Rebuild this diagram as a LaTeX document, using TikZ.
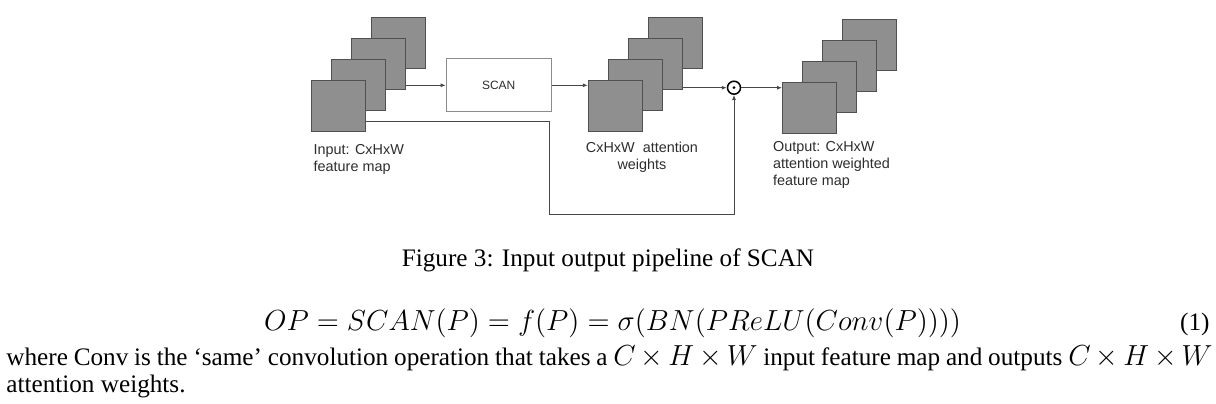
\RequirePackage{fix-cm}
\documentclass[tikz,border=0pt]{standalone}
\usepackage{fontspec}
\setmainfont{Liberation Serif}
\newfontfamily\arial{Liberation Sans}
\usepackage{xcolor}
\usepackage{tikz}
\usetikzlibrary{arrows.meta}
\definecolor{mapfill}{RGB}{143,143,143}
\definecolor{mapline}{RGB}{80,80,80}
\definecolor{wire}{RGB}{70,70,70}
\definecolor{lbltext}{RGB}{45,45,45}
\newcommand{\fmstack}[3]{%
  \foreach \i in {3,2,1,0}
    {\node[fmap] (#1\i) at ({#2+20*\i},{#3-21*\i}) {};}%
}
\newcommand{\mth}[1]{{\fontsize{14.5}{13.6}\selectfont$#1$}}
\tikzset{
  fmap/.style={draw=mapline,fill=mapfill,line width=0.5pt,
    minimum width=27pt,minimum height=25.5pt,inner sep=0pt},
  blockbox/.style={draw=black!45,line width=0.5pt,minimum width=52.5pt,
    minimum height=26.5pt,font=\arial\fontsize{6}{7}\selectfont,text=lbltext},
  lbl/.style={inner sep=0pt,font=\arial\fontsize{7.2}{8.5}\selectfont,text=lbltext},
  arr/.style={draw=wire,line width=0.45pt,-{Latex[length=2.5pt,width=2pt]}},
  txt/.style={inner sep=0pt,font=\fontsize{12.6}{13.6}\selectfont}
}
\begin{document}
\begin{tikzpicture}[x=0.5pt,y=-0.5pt]
  \useasboundingbox (0,0) rectangle (1216,403);
  \fmstack{in}{338}{106.2}
  \fmstack{att}{615.3}{106.2}
  \fmstack{out}{809.5}{107.9}
  \node[blockbox] (scan) at (498.7,85.3) {SCAN};
  \node[circle,draw=black,line width=0.75pt,minimum size=6.5pt,inner sep=0pt]
    (odot) at (734,87.7) {};
  \fill (odot) circle (0.75pt);
  \coordinate (skip) at (549.3,214);
  \draw[arr] (in2.east |- scan.west) -- (scan.west);
  \draw[arr] (scan.east) -- (scan.east -| att0.west);
  \draw[arr] (att2.east |- odot.west) -- (odot.west);
  \draw[arr] (odot.east) -- (odot.east -| out0.west);
  \draw[arr] ([yshift=-7.75pt]in0.east) -| (skip) -| (odot.south);
  \node[lbl,anchor=north west,align=left] (inlbl) at (313.3,144)
    {Input: CxHxW\\feature map};
  \node[lbl,anchor=north,align=center] (attlbl) at (642,141.7)
    {CxHxW\ \ attention\\weights};
  \node[lbl,anchor=north west,align=left] (outlbl) at (772.7,141)
    {Output: CxHxW\\attention weighted\\feature map};
  \node[txt,anchor=base] (cap) at (608,266.7)
    {Figure 3: Input output pipeline of SCAN};
  \node[txt,anchor=base] (eq) at (612.5,330)
    {\mth{OP = SCAN(P) = f(P) = \sigma(BN(PReLU(Conv(P))))}};
  \node[txt,anchor=base east] (eqno) at (1210,330) {(1)};
  \node[txt,anchor=base west] (body1) at (6,365)
    {\makebox[603pt][s]{where Conv is the `same' convolution operation that
     takes a \mth{C \times H \times W} input feature map and outputs
     \mth{C \times H \times W}}};
  \node[txt,anchor=base west] (body2) at (6,392) {attention weights.};
\end{tikzpicture}
\end{document}
